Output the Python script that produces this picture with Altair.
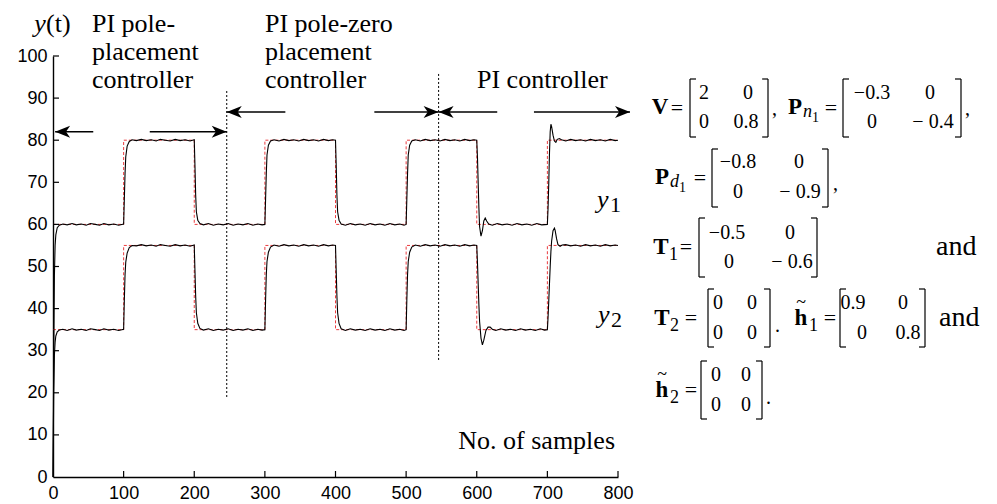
import altair as alt
import pandas as pd

# ---------------- data ----------------
# setpoints (red dashed, step after each sample time)
SP_T = [0, 100, 200, 300, 400, 500, 600, 700, 800]
SP_Y1 = [60, 80, 60, 80, 60, 80, 60, 80, 80]
SP_Y2 = [35, 55, 35, 55, 35, 55, 35, 55, 55]

# measured output y1 (black)
Y1_T = [0, 1, 2, 3, 4, 6, 9, 14, 20, 27, 33, 40, 47, 53, 60, 66, 72, 79, 86, 93, 100,
        101, 102, 103, 105, 108, 112, 118, 125, 132, 139, 146, 152, 159, 166, 173, 180, 187, 194, 200,
        201, 202, 203, 205, 208, 213, 220, 227, 234, 241, 248, 255, 262, 269, 276, 283, 290, 296, 300,
        301, 302, 303, 305, 308, 313, 320, 327, 334, 341, 348, 355, 362, 369, 376, 383, 390, 396, 400,
        401, 402, 403, 405, 408, 414, 421, 428, 435, 442, 449, 456, 463, 470, 477, 484, 491, 497, 500,
        501, 502, 503, 505, 508, 513, 520, 527, 534, 541, 548, 555, 562, 569, 576, 583, 590, 596, 600,
        601, 602, 603, 604, 606, 608, 610, 612, 614, 617, 622, 629, 636, 643, 650, 657, 664, 671, 678, 685, 692, 700,
        701, 702, 703, 704, 705, 706, 708, 710, 712, 714, 717, 720, 726, 733, 740, 747, 754, 761, 768, 775, 782, 789, 796, 800]
Y1_V = [0, 28, 48, 55, 57.5, 59.2, 59.8, 60.1, 59.9, 60.2, 59.9, 60.1, 59.8, 60.2, 60.0, 59.8, 60.2, 59.9, 60.1, 59.8, 60.1,
        66, 72, 76, 78.6, 79.7, 80.1, 79.9, 80.2, 79.9, 80.1, 79.8, 80.2, 80.0, 79.8, 80.2, 79.9, 80.1, 79.8, 80.1,
        74, 67, 63, 61, 60.2, 59.9, 60.2, 59.8, 60.1, 59.9, 60.2, 59.8, 60.1, 59.9, 60.2, 59.8, 60.1, 59.9, 60.0,
        66, 72, 76.5, 78.8, 79.8, 80.1, 79.8, 80.2, 79.9, 80.1, 79.8, 80.2, 79.9, 80.1, 79.8, 80.2, 79.9, 80.1, 80.0,
        74, 67, 63, 61, 60.1, 59.8, 60.2, 59.9, 60.1, 59.8, 60.2, 59.9, 60.1, 59.8, 60.2, 59.9, 60.1, 59.8, 60.0,
        66, 72, 76.5, 78.8, 79.8, 80.1, 79.8, 80.2, 79.9, 80.1, 79.8, 80.2, 79.9, 80.1, 79.8, 80.2, 79.9, 80.1, 80.0,
        76, 70, 64, 59.5, 57.2, 58.5, 60.8, 61.5, 60.8, 60.1, 59.8, 60.2, 59.9, 60.1, 59.8, 60.2, 59.9, 60.1, 59.8, 60.2, 59.9, 60.0,
        64, 70, 77, 82, 83.8, 83.2, 81.2, 79.8, 79.5, 80.2, 80.4, 80.1, 79.8, 80.2, 79.9, 80.1, 79.8, 80.2, 79.9, 80.1, 79.8, 80.2, 79.9, 80.0]

# measured output y2 (black)
Y2_T = [0, 1, 2, 3, 4, 6, 9, 14, 20, 27, 33, 40, 47, 53, 60, 66, 72, 79, 86, 93, 100,
        101, 102, 103, 105, 108, 112, 118, 125, 132, 139, 146, 152, 159, 166, 173, 180, 187, 194, 200,
        201, 202, 203, 205, 208, 213, 220, 227, 234, 241, 248, 255, 262, 269, 276, 283, 290, 296, 300,
        301, 302, 303, 305, 308, 313, 320, 327, 334, 341, 348, 355, 362, 369, 376, 383, 390, 396, 400,
        401, 402, 403, 405, 408, 414, 421, 428, 435, 442, 449, 456, 463, 470, 477, 484, 491, 497, 500,
        501, 502, 503, 505, 508, 513, 520, 527, 534, 541, 548, 555, 562, 569, 576, 583, 590, 596, 600,
        601, 602, 603, 604, 606, 608, 610, 613, 616, 619, 622, 627, 634, 641, 648, 655, 662, 669, 676, 683, 690, 696, 700,
        701, 702, 703, 704, 705, 706, 708, 710, 711, 713, 715, 718, 721, 726, 733, 740, 747, 754, 761, 768, 775, 782, 789, 796, 800]
Y2_V = [0, 20, 29, 32, 33.5, 34.5, 34.9, 35.1, 34.8, 35.2, 34.9, 35.1, 34.8, 35.2, 35.0, 34.8, 35.2, 34.9, 35.1, 34.8, 35.1,
        42, 48, 51, 53.2, 54.5, 55.0, 54.9, 55.2, 54.9, 55.1, 54.8, 55.2, 55.0, 54.8, 55.2, 54.9, 55.1, 54.8, 55.1,
        49, 43, 39, 36.5, 35.3, 34.9, 35.2, 34.8, 35.1, 34.9, 35.2, 34.8, 35.1, 34.9, 35.2, 34.8, 35.1, 34.9, 35.0,
        42, 48, 51.2, 53.4, 54.6, 55.1, 54.8, 55.2, 54.9, 55.1, 54.8, 55.2, 54.9, 55.1, 54.8, 55.2, 54.9, 55.1, 55.0,
        49, 43, 39, 36.5, 35.2, 34.8, 35.2, 34.9, 35.1, 34.8, 35.2, 34.9, 35.1, 34.8, 35.2, 34.9, 35.1, 34.8, 35.0,
        42, 48, 51.2, 53.4, 54.6, 55.1, 54.8, 55.2, 54.9, 55.1, 54.8, 55.2, 54.9, 55.1, 54.8, 55.2, 54.9, 55.1, 55.0,
        51, 46, 41, 37, 33, 31.4, 32.5, 34.8, 35.6, 35.6, 35.1, 34.8, 35.2, 34.9, 35.1, 34.8, 35.2, 34.9, 35.1, 34.8, 35.2, 34.9, 35.0,
        38, 42, 46, 50, 53.5, 56, 58.5, 59.1, 58.6, 56.6, 55.2, 54.8, 55.1, 55.2, 54.9, 55.1, 54.8, 55.2, 54.9, 55.1, 54.8, 55.2, 54.9, 55.1, 55.0]

# controller-switch markers (vertical dotted lines)
SW_T = [246, 546]
SW_LO = [19, 27.8]
SW_HI = [92, 96]

# arrows: tail sample, tip sample, level
AR_FROM = [57, 137, 329, 455, 629, 681]
AR_TO = [3, 246, 246, 546, 546, 817]
AR_Y = [82, 82, 86.7, 86.7, 86.7, 86.7]

X_TICKS = [0, 100, 200, 300, 400, 500, 600, 700, 800]
Y_TICKS = [0, 10, 20, 30, 40, 50, 60, 70, 80, 90, 100]

# ---------------- layout ----------------
W, H = 565, 421
OX, OY = 53, 56          # page position of the plot origin
SERIF = "Liberation Serif"
SANS = "Liberation Sans"

x_sc = alt.Scale(domain=[0, 800], nice=False, zero=False)
y_sc = alt.Scale(domain=[0, 100], nice=False, zero=False)
x_axis = alt.Axis(values=X_TICKS, format="d", ticks=False, grid=False, domainColor="black",
                  domainWidth=1.4, labelFont=SANS, labelFontSize=18, labelColor="black",
                  labelPadding=7, labelFlush=False)
y_axis = alt.Axis(values=Y_TICKS, format="d", ticks=False, grid=False, domainColor="black",
                  domainWidth=1.4, labelFont=SANS, labelFontSize=18, labelColor="black",
                  labelPadding=6, labelFlush=False)


def X(f):
    return alt.X(f, scale=x_sc, axis=x_axis, title=None)


def Y(f):
    return alt.Y(f, scale=y_sc, axis=y_axis, title=None)


sp_df = pd.DataFrame({"t": SP_T * 2, "v": SP_Y1 + SP_Y2, "s": ["y1"] * len(SP_T) + ["y2"] * len(SP_T)})
out_df = pd.DataFrame({"t": Y1_T + Y2_T, "v": Y1_V + Y2_V, "s": ["y1"] * len(Y1_T) + ["y2"] * len(Y2_T)})

setpoint = alt.Chart(sp_df).mark_line(interpolate="step-after", color="#e8262a", strokeWidth=0.9,
                                      strokeDash=[3, 2]).encode(x=X("t:Q"), y=Y("v:Q"), detail="s:N")
output = alt.Chart(out_df).mark_line(color="black", strokeWidth=1.1).encode(
    x=X("t:Q"), y=Y("v:Q"), detail="s:N", order="t:Q")

sw_df = pd.DataFrame({"t": SW_T, "v": SW_LO, "v2": SW_HI})
switch = alt.Chart(sw_df).mark_rule(color="black", strokeWidth=1, strokeDash=[2, 2]).encode(
    x=X("t:Q"), y=Y("v:Q"), y2="v2:Q")

ar_df = pd.DataFrame({"t": AR_FROM, "t2": AR_TO, "v": AR_Y})
ar_df["dir"] = ["L" if b < a else "R" for a, b in zip(AR_FROM, AR_TO)]
shafts = alt.Chart(ar_df).mark_rule(color="black", strokeWidth=1.4).encode(x=X("t:Q"), x2="t2:Q", y=Y("v:Q"))
head_l = alt.Chart(ar_df[ar_df.dir == "L"]).mark_point(
    shape="M0,0L2,-0.8L1.45,0L2,0.8Z", filled=True, size=225, color="black", opacity=1, strokeWidth=0
).encode(x=X("t2:Q"), y=Y("v:Q"))
head_r = alt.Chart(ar_df[ar_df.dir == "R"]).mark_point(
    shape="M0,0L-2,-0.8L-1.45,0L-2,0.8Z", filled=True, size=225, color="black", opacity=1, strokeWidth=0
).encode(x=X("t2:Q"), y=Y("v:Q"))

xt_df = pd.DataFrame({"t": X_TICKS[1:]})
yt_df = pd.DataFrame({"v": Y_TICKS[1:]})
xticks = alt.Chart(xt_df).mark_rule(color="black", strokeWidth=1.2).encode(
    x=X("t:Q"), y=alt.value(H), y2=alt.value(H - 6))
yticks = alt.Chart(yt_df).mark_rule(color="black", strokeWidth=1.2).encode(
    y=Y("v:Q"), x=alt.value(0), x2=alt.value(6))

# ---------------- annotations (page coordinates) ----------------
N, B, I = "normal", "bold", "italic"
C, L, R = "center", "left", "right"
A, M = "alphabetic", "middle"
ANN = [
    # text, x, y, size, weight, style, align, baseline
    ("y", 40, 32, 26, N, I, C, A),
    ("(t)", 46, 32, 26, N, N, L, A),
    ("PI pole-", 92, 32, 26, N, N, L, A),
    ("placement", 92, 60, 26, N, N, L, A),
    ("controller", 92, 88, 26, N, N, L, A),
    ("PI pole-zero", 265, 32, 26, N, N, L, A),
    ("placement", 265, 60, 26, N, N, L, A),
    ("controller", 265, 88, 26, N, N, L, A),
    ("PI controller", 477, 88, 26, N, N, L, A),
    ("y", 597, 208, 26, N, I, L, A),
    ("1", 610, 212, 22, N, N, L, A),
    ("y", 598, 323, 26, N, I, L, A),
    ("2", 611, 327, 22, N, N, L, A),
    ("No. of samples", 615, 449, 26, N, N, R, A),
    ("and", 936, 255, 28, N, N, L, A),
    ("and", 939, 326, 28, N, N, L, A),
    # bold symbols
    ("V", 660, 107, 23, B, N, C, M),
    ("P", 795, 107, 23, B, N, C, M),
    ("P", 662, 177, 23, B, N, C, M),
    ("T", 661, 247, 23, B, N, C, M),
    ("T", 662, 318, 23, B, N, C, M),
    ("h", 801, 318, 23, B, N, C, M),
    ("h", 662, 390, 23, B, N, C, M),
    ("~", 801, 303, 18, N, N, C, M),
    ("~", 662, 375, 18, N, N, C, M),
    # subscripts
    ("n", 803, 112, 18, N, I, L, M),
    ("1", 812, 118, 14, N, N, L, M),
    ("d", 670, 182, 18, N, I, L, M),
    ("1", 679, 188, 14, N, N, L, M),
    ("1", 669, 255, 18, N, N, L, M),
    ("2", 670, 326, 18, N, N, L, M),
    ("1", 809, 326, 18, N, N, L, M),
    ("2", 670, 398, 18, N, N, L, M),
    # equals signs
    ("=", 677, 108, 22, N, N, C, M),
    ("=", 831, 108, 22, N, N, C, M),
    ("=", 700, 178, 22, N, N, C, M),
    ("=", 686, 247, 22, N, N, C, M),
    ("=", 691, 318, 22, N, N, C, M),
    ("=", 830, 318, 22, N, N, C, M),
    ("=", 691, 390, 22, N, N, C, M),
    # matrix entries
    ("2", 704, 93, 20, N, N, C, M), ("0", 748, 93, 20, N, N, C, M),
    ("0", 704, 122, 20, N, N, C, M), ("0.8", 746, 122, 20, N, N, C, M),
    ("\u22120.3", 872, 93, 20, N, N, C, M), ("0", 930, 93, 20, N, N, C, M),
    ("0", 872, 122, 20, N, N, C, M), ("\u2212 0.4", 933, 122, 20, N, N, C, M),
    ("\u22120.8", 738, 162, 20, N, N, C, M), ("0", 799, 162, 20, N, N, C, M),
    ("0", 738, 192, 20, N, N, C, M), ("\u2212 0.9", 800, 192, 20, N, N, C, M),
    ("\u22120.5", 727, 233, 20, N, N, C, M), ("0", 790, 233, 20, N, N, C, M),
    ("0", 729, 262, 20, N, N, C, M), ("\u2212 0.6", 792, 262, 20, N, N, C, M),
    ("0", 718, 303, 20, N, N, C, M), ("0", 752, 303, 20, N, N, C, M),
    ("0", 718, 333, 20, N, N, C, M), ("0", 752, 333, 20, N, N, C, M),
    ("0.9", 853, 303, 20, N, N, C, M), ("0", 903, 303, 20, N, N, C, M),
    ("0", 862, 333, 20, N, N, C, M), ("0.8", 908, 333, 20, N, N, C, M),
    ("0", 716, 375, 20, N, N, C, M), ("0", 746, 375, 20, N, N, C, M),
    ("0", 716, 405, 20, N, N, C, M), ("0", 746, 405, 20, N, N, C, M),
    # punctuation
    (",", 772, 109, 20, N, N, L, M),
    (",", 965, 109, 20, N, N, L, M),
    (",", 833, 184, 20, N, N, L, M),
    (".", 775, 326, 20, N, N, L, M),
    (".", 766, 398, 20, N, N, L, M),
]
ann_df = pd.DataFrame(ANN, columns=["text", "x", "y", "fs", "w", "st", "al", "bl"])
ann_df["px"] = ann_df["x"] - OX
ann_df["py"] = ann_df["y"] - OY

text_layers = []
for (w, st, al, bl), grp in ann_df.groupby(["w", "st", "al", "bl"]):
    text_layers.append(
        alt.Chart(grp.reset_index(drop=True)).mark_text(
            font=SERIF, fontWeight=w, fontStyle=st, align=al, baseline=bl, color="black"
        ).encode(
            x=alt.X("px:Q", scale=None, axis=None),
            y=alt.Y("py:Q", scale=None, axis=None),
            text="text:N",
            size=alt.Size("fs:Q", scale=None, legend=None),
        )
    )

# matrix brackets (page coordinates): left, right, top, bottom
BRACKETS = [
    (690, 768, 79, 137),
    (843, 961, 79, 137),
    (712, 828, 149, 207),
    (699, 817, 218, 277),
    (708, 770, 289, 347),
    (840, 925, 289, 347),
    (701, 762, 361, 419),
]
SERIF_LEN = 6
segs = []
for xl, xr, yt, yb in BRACKETS:
    segs += [
        (xl, xl, yt, yb), (xl, xl + SERIF_LEN, yt, yt), (xl, xl + SERIF_LEN, yb, yb),
        (xr, xr, yt, yb), (xr - SERIF_LEN, xr, yt, yt), (xr - SERIF_LEN, xr, yb, yb),
    ]
br_df = pd.DataFrame(segs, columns=["x0", "x1", "y0", "y1"])
br_df[["x0", "x1"]] = br_df[["x0", "x1"]] - OX
br_df[["y0", "y1"]] = br_df[["y0", "y1"]] - OY
brackets = alt.Chart(br_df).mark_rule(color="black", strokeWidth=1.2).encode(
    x=alt.X("x0:Q", scale=None, axis=None), x2="x1:Q",
    y=alt.Y("y0:Q", scale=None, axis=None), y2="y1:Q")

chart = alt.layer(
    setpoint, output, switch, shafts, head_l, head_r, xticks, yticks, brackets, *text_layers
).properties(
    width=W, height=H,
    autosize=alt.AutoSizeParams(type="none"),
    padding={"left": 45, "top": 48, "right": 370, "bottom": 27},
    background="white",
).configure_view(stroke=None)

chart.save("out.html", embed_options={"renderer": "svg", "actions": False})
